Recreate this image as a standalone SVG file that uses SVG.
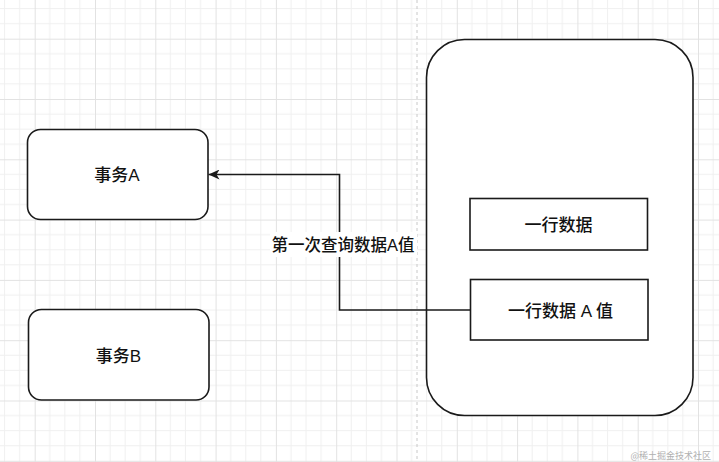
<svg xmlns="http://www.w3.org/2000/svg" width="719" height="462" viewBox="0 0 719 462">
<style>
.box{fill:#fff;stroke:#1a1a1a;stroke-width:1.6}
.t{font-family:"Liberation Sans","Noto Sans CJK SC",sans-serif;font-size:17px;font-weight:500;fill:#111;text-anchor:middle;dominant-baseline:central}
.lbl{font-family:"Liberation Sans","Noto Sans CJK SC",sans-serif;font-size:16.5px;font-weight:500;fill:#111;text-anchor:middle;dominant-baseline:central}
.edge{fill:none;stroke:#1a1a1a;stroke-width:1.6}
</style>
<defs>
<pattern id="grid" x="34.7" y="38.7" width="60.3" height="60.3" patternUnits="userSpaceOnUse">
<path d="M15.075 0V60.3M30.15 0V60.3M45.225 0V60.3M0 15.075H60.3M0 30.15H60.3M0 45.225H60.3" stroke="#f0f0f0" stroke-width="1" fill="none"/>
<path d="M0.5 0V60.3M0 0.5H60.3" stroke="#e2e2e2" stroke-width="1" fill="none"/>
</pattern>
<marker id="arr" markerWidth="12" markerHeight="10" refX="11" refY="5" orient="auto" markerUnits="userSpaceOnUse">
<path d="M0 0L11 5L0 10L3 5Z" fill="#1a1a1a"/>
</marker>
</defs>
<rect width="719" height="462" fill="#fff"/>
<rect width="719" height="462" fill="url(#grid)"/>
<line x1="417" y1="0" x2="417" y2="462" stroke="#c8c8c8" stroke-width="1" stroke-dasharray="3 3"/>
<g id="txA"><rect class="box" x="27.5" y="129.5" width="180.5" height="90" rx="13"/><text class="t" x="117" y="175">事务A</text></g>
<g id="txB"><rect class="box" x="28.5" y="309.5" width="180.5" height="90.5" rx="13"/><text class="t" x="118.5" y="356">事务B</text></g>
<g id="table"><rect class="box" x="426.5" y="39.5" width="266.5" height="376" rx="38"/></g>
<g id="row1"><rect class="box" x="470" y="198.5" width="177.5" height="51.5"/><text class="t" x="558.5" y="225">一行数据</text></g>
<g id="row2"><rect class="box" x="470.5" y="279.5" width="177.5" height="60.5"/><text class="t" x="560.5" y="311">一行数据 A 值</text></g>
<g id="connectors">
<path class="edge" d="M470.5 310H339.5V174.5H208.5" marker-end="url(#arr)"/>
<rect x="270" y="232" width="147" height="25" fill="#fff"/>
<text class="lbl" x="343" y="245">第一次查询数据A值</text>
</g>
<text x="711" y="455" font-family="'Noto Sans CJK SC',sans-serif" font-size="9" fill="#b0b0b0" text-anchor="end" dominant-baseline="central">@稀土掘金技术社区</text>
</svg>
